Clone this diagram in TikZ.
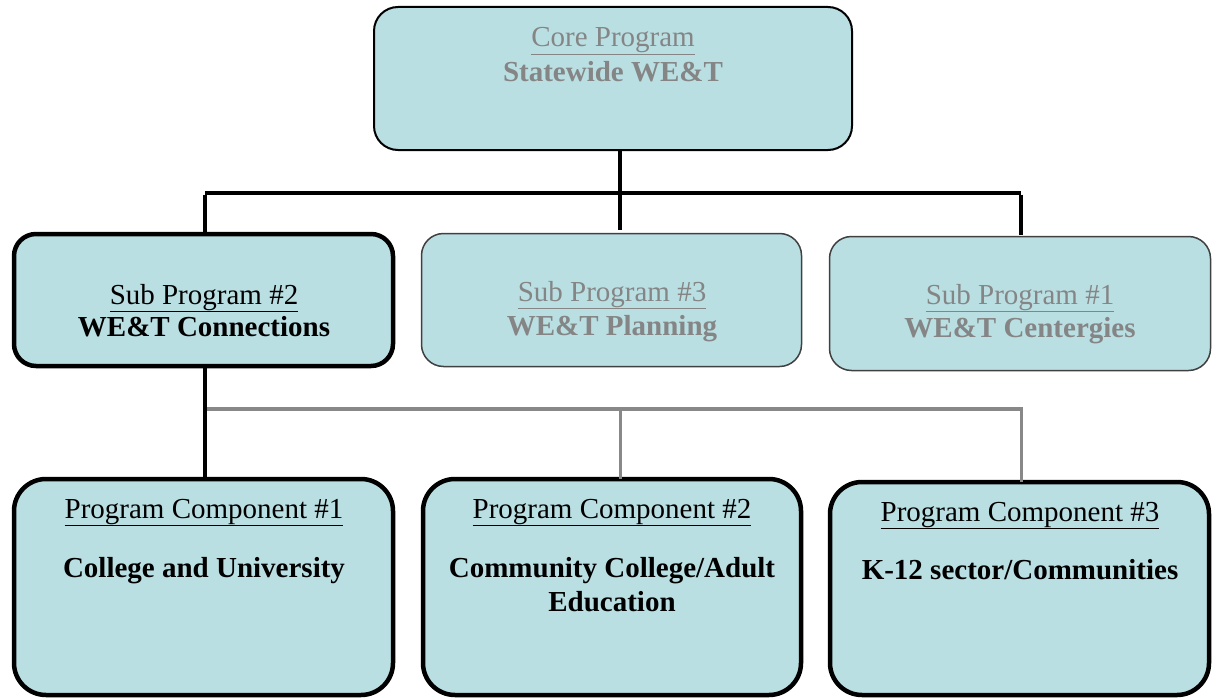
\documentclass[tikz,border=0pt]{standalone}
\usepackage{fontspec}
\setmainfont{Liberation Serif}
\definecolor{boxfill}{HTML}{B9DFE3}
\definecolor{mutedtext}{HTML}{858585}
\definecolor{thinedge}{HTML}{404040}
\definecolor{busgray}{HTML}{888888}
\begin{document}
\begin{tikzpicture}[x=1pt,y=-1pt,
  every node/.style={inner sep=0pt,outer sep=0pt},
  box/.style={draw=black,fill=boxfill,rounded corners=24pt,line width=2pt},
  boldbox/.style={box,line width=4.5pt,rounded corners=22pt},
  tallbox/.style={box,line width=4.5pt,rounded corners=32pt},
  faintbox/.style={box,draw=thinedge,line width=1.5pt,rounded corners=22pt},
  txt/.style={anchor=base,font=\fontsize{29}{34}\selectfont},
  head/.style={txt},
  title/.style={txt,font=\fontsize{29}{34}\selectfont\bfseries},
  busline/.style={draw=black,line width=3.2pt},
  link/.style={draw=black,line width=4pt},
  graybus/.style={draw=busgray,line width=3.5pt},
  graylink/.style={draw=busgray,line width=3pt}]
\useasboundingbox (0,0) rectangle (1217,698);

% boxes
\node[box,minimum width=478pt,minimum height=143pt] (core) at (613,78.5) {};
\node[boldbox,minimum width=379pt,minimum height=132pt] (sub2) at (203.5,300) {};
\node[faintbox,minimum width=380pt,minimum height=133pt] (sub3) at (611.5,300) {};
\node[faintbox,minimum width=381pt,minimum height=134pt] (sub1) at (1020,303.5) {};
\node[tallbox,minimum width=379pt,minimum height=216pt] (pc1) at (203.5,587) {};
\node[tallbox,minimum width=378pt,minimum height=216pt] (pc2) at (612,587) {};
\node[tallbox,minimum width=379pt,minimum height=213pt] (pc3) at (1019.5,588.5) {};

% junction points of the two buses
\coordinate (topmid) at (620,193);
\coordinate (topleft) at (205,193);
\coordinate (topright) at (1021,193);
\coordinate (lowleft) at (205,409);
\coordinate (lowmid) at (620,409);
\coordinate (lowright) at (1021,409);

% upper bus (core program to sub programs)
\draw[busline] (topleft) -- (topright);
\draw[link] (core.south -| topmid) -- ([yshift=4pt]sub3.north -| topmid);
\draw[link] ([yshift=-1.6pt]topleft) -- (sub2.north -| topleft);
\draw[link] ([yshift=-1.6pt]topright) -- ([yshift=2pt]sub1.north -| topright);

% lower bus (sub program #2 to components)
\draw[graybus] (lowleft) -- ([xshift=1.5pt]lowright);
\draw[graylink] (lowmid) -- (pc2.north -| lowmid);
\draw[graylink] ([yshift=-1.7pt]lowright) -- (pc3.north -| lowright);
\draw[link] (sub2.south -| lowleft) -- (pc1.north -| lowleft);

% texts
\node[head,text=mutedtext] (coreh) at (613,46.5) {\underline{Core Program}};
\node[title,text=mutedtext] (coret) at (613,82) {Statewide WE\&T};

\node[head] (sub2h) at (204,304) {\underline{Sub Program \#2}};
\node[title] (sub2t) at (204,336) {WE\&T Connections};

\node[head,text=mutedtext] (sub3h) at (612,301) {\underline{Sub Program \#3}};
\node[title,text=mutedtext] (sub3t) at (612,335) {WE\&T Planning};

\node[head,text=mutedtext] (sub1h) at (1020,304) {\underline{Sub Program \#1}};
\node[title,text=mutedtext] (sub1t) at (1020,337) {WE\&T Centergies};

\node[head] (pc1h) at (204,518) {\underline{Program Component \#1}};
\node[title] (pc1t) at (204,577) {College and University};

\node[head] (pc2h) at (612,518) {\underline{Program Component \#2}};
\node[title] (pc2t) at (612,577) {Community College/Adult};
\node[title] (pc2u) at (612,611) {Education};

\node[head] (pc3h) at (1020,521) {\underline{Program Component \#3}};
\node[title] (pc3t) at (1020,579) {K-12 sector/Communities};
\end{tikzpicture}
\end{document}
